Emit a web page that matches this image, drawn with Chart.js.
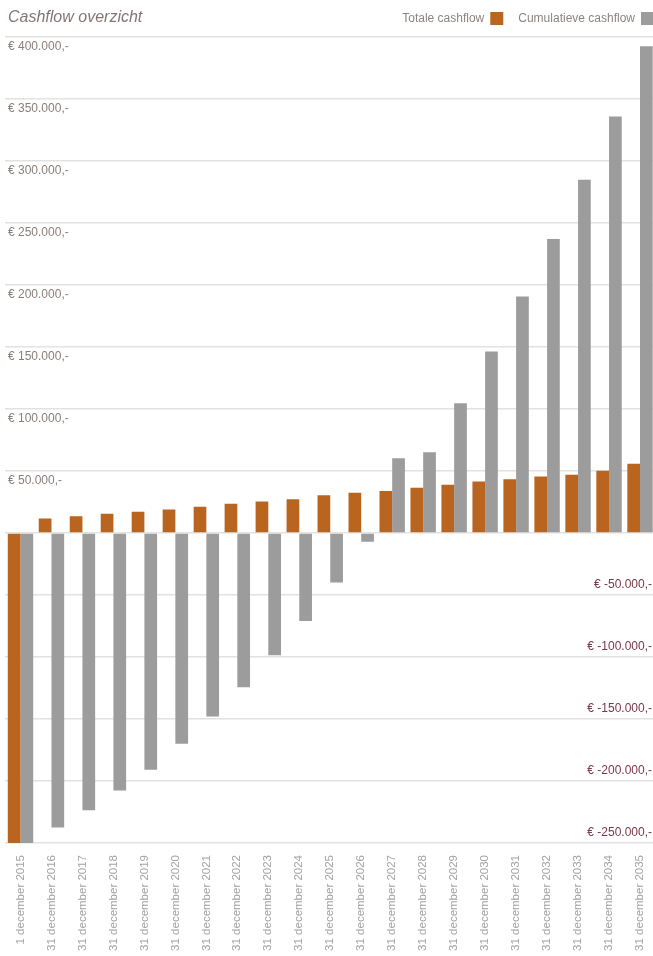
<!DOCTYPE html>
<html>
<head>
<meta charset="utf-8">
<script src="https://cdn.jsdelivr.net/npm/chart.js@4/dist/chart.umd.min.js"></script>
<style>
  html, body { margin: 0; padding: 0; background: #ffffff; overflow: hidden; }
  #wrap { position: relative; width: 658px; height: 956px; overflow: hidden; }
  canvas { display: block; }
</style>
</head>
<body>
<div id="wrap"><canvas id="c" width="658" height="956" style="width:658px;height:956px"></canvas></div>
<script>
// ---- data ----
const chartTitle = "Cashflow overzicht";
const categories = [
  "1 december 2015", "31 december 2016", "31 december 2017", "31 december 2018",
  "31 december 2019", "31 december 2020", "31 december 2021", "31 december 2022",
  "31 december 2023", "31 december 2024", "31 december 2025", "31 december 2026",
  "31 december 2027", "31 december 2028", "31 december 2029", "31 december 2030",
  "31 december 2031", "31 december 2032", "31 december 2033", "31 december 2034",
  "31 december 2035"
];
const seriesNames = ["Totale cashflow", "Cumulatieve cashflow"];
const totaleCashflow = [
  -250000, 11600, 13600, 15500, 17100, 19000, 21100, 23500, 25400, 27300,
  30400, 32500, 33800, 36500, 38900, 41500, 43400, 45600, 47000, 50200, 55800
];
const cumulatieveCashflow = [
  -250000, -237600, -223600, -207700, -191000, -170000, -148000, -124300, -98500, -71000,
  -40000, -7000, 60300, 65200, 104700, 146400, 190700, 237000, 284800, 335900, 392600
];
const positiveTicks = [400000, 350000, 300000, 250000, 200000, 150000, 100000, 50000];
const negativeTicks = [-50000, -100000, -150000, -200000, -250000];
const yMin = -250000, yMax = 400000, yStep = 50000;

// ---- styles ----
const ORANGE = "#b9651f";
const GREY = "#9c9c9c";
const GRID = "#e2e2e2";
const TEXT_POS = "#8a7e7a";
const TEXT_NEG = "#7a3848";
const FONT = "'Liberation Sans', Arial, sans-serif";

function fmtEuro(v) {
  const s = Math.abs(v).toString().replace(/\B(?=(\d{3})+(?!\d))/g, ".");
  return "€ " + (v < 0 ? "-" : "") + s + ",-";
}

const overlay = {
  id: "overlay",
  afterDraw(chart) {
    const ctx = chart.ctx;
    const y = chart.scales.y;
    ctx.save();
    // title
    ctx.font = "italic 16px " + FONT;
    ctx.fillStyle = "#847773";
    ctx.textAlign = "left";
    ctx.textBaseline = "middle";
    ctx.fillText(chartTitle, 8, 18);
    // legend (text then box), laid out from right
    ctx.font = "12px " + FONT;
    const colors = [ORANGE, GREY];
    const box = 13, gapTB = 6, gapItems = 15;
    let xr = 654;
    for (let i = seriesNames.length - 1; i >= 0; i--) {
      ctx.fillStyle = colors[i];
      ctx.fillRect(xr - box, 12, box, box);
      xr -= box + gapTB;
      ctx.fillStyle = "#8c8480";
      ctx.textAlign = "right";
      ctx.fillText(seriesNames[i], xr, 19);
      xr -= ctx.measureText(seriesNames[i]).width + gapItems;
    }
    // y labels
    ctx.font = "12px " + FONT;
    ctx.textAlign = "left";
    ctx.fillStyle = TEXT_POS;
    positiveTicks.forEach(v => {
      ctx.fillText(fmtEuro(v), 8, y.getPixelForValue(v) + 10);
    });
    ctx.textAlign = "right";
    ctx.fillStyle = TEXT_NEG;
    negativeTicks.forEach(v => {
      ctx.fillText(fmtEuro(v), 652, y.getPixelForValue(v) - 10);
    });
    ctx.restore();
  }
};

new Chart(document.getElementById("c"), {
  type: "bar",
  data: {
    labels: categories,
    datasets: [
      { label: seriesNames[0], data: totaleCashflow, backgroundColor: ORANGE, borderWidth: 0 },
      { label: seriesNames[1], data: cumulatieveCashflow, backgroundColor: GREY, borderWidth: 0 }
    ]
  },
  options: {
    responsive: false,
    animation: false,
    devicePixelRatio: 1,
    layout: { padding: { left: 5, right: 2.5, top: 37, bottom: 0 } },
    datasets: { bar: { categoryPercentage: 0.82, barPercentage: 1.0 } },
    plugins: { legend: { display: false }, title: { display: false }, tooltip: { enabled: false } },
    scales: {
      x: {
        grid: { display: false },
        border: { display: false },
        ticks: {
          autoSkip: false, minRotation: 90, maxRotation: 90, padding: 4,
          color: "#a3a3a3", font: { family: FONT, size: 11.5 }
        },
        afterFit(scale) { scale.height = 113; }
      },
      y: {
        min: yMin, max: yMax,
        grid: { color: GRID, lineWidth: 1.5, drawTicks: false },
        border: { display: false },
        ticks: { display: false, stepSize: yStep },
        afterFit(scale) { scale.width = 0; }
      }
    }
  },
  plugins: [overlay]
});
</script>
</body>
</html>
